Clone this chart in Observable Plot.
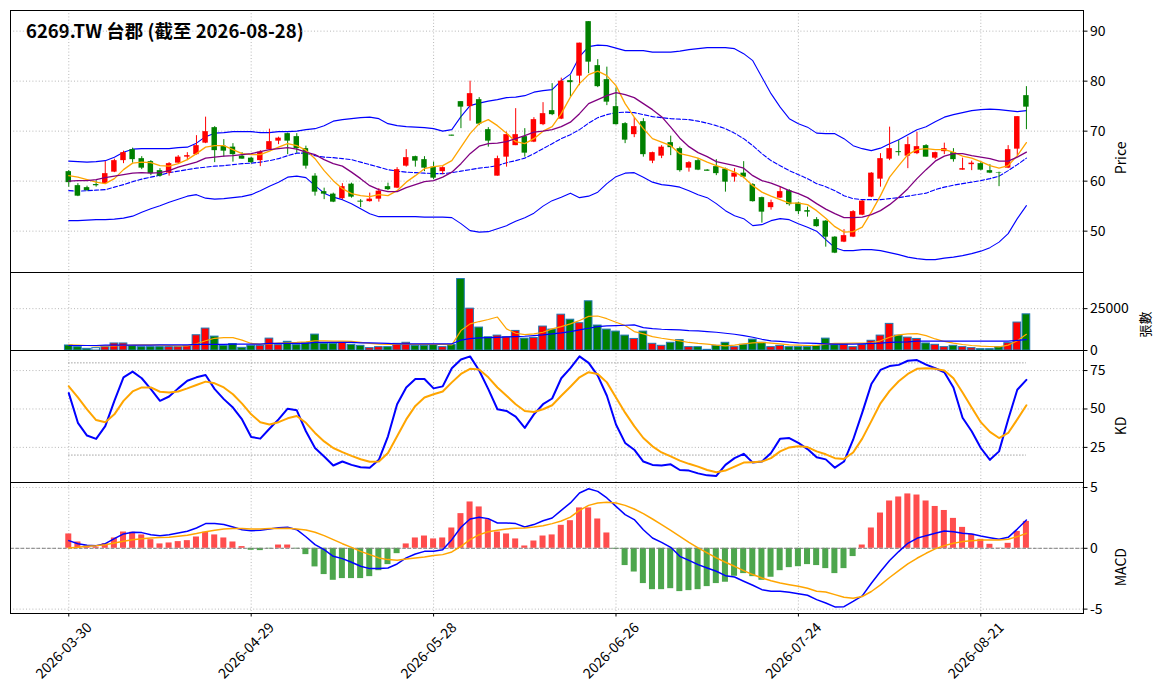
<!DOCTYPE html>
<html><head><meta charset="utf-8">
<script src="https://cdn.jsdelivr.net/npm/d3@7"></script>
<script src="https://cdn.jsdelivr.net/npm/@observablehq/plot@0.6"></script>
<style>
html,body{margin:0;padding:0;background:#fff;}
#chart{position:relative;width:1164px;height:698px;background:#fff;font-family:'Noto Sans CJK TC','Noto Sans',sans-serif;overflow:hidden;}
#chart svg{position:absolute;left:0;overflow:visible;}
#title{position:absolute;left:26px;top:18px;font-size:18.5px;font-weight:bold;line-height:24px;color:#000;white-space:nowrap;}
</style></head><body>
<div id="chart"><div id="title">6269.TW 台郡 (截至 2026-08-28)</div></div>
<script>
// ---- tick labels (trading-day index -> date) ----
const tickIdx = [0, 20, 40, 60, 80, 100];
const tickLabels = ["2026-03-30", "2026-04-29", "2026-05-28", "2026-06-26", "2026-07-24", "2026-08-21"];

// ---- OHLC ----
const open = [61.9,59.1,58.7,59.3,59.5,61.8,64.1,66.3,64.5,63.9,62.1,61.6,63.6,64.8,65.3,67.6,70.7,67.0,66.8,65.0,64.6,64.1,66.3,68.0,69.5,68.9,66.5,61.0,57.9,57.4,56.5,59.4,56.0,55.9,56.4,58.9,58.6,63.0,64.9,64.3,62.8,61.9,69.2,75.9,74.9,76.3,70.3,61.0,64.8,67.1,68.9,67.8,71.3,74.1,72.4,80.1,81.0,91.9,83.1,80.3,74.9,71.5,69.3,71.9,64.0,65.0,67.7,66.5,62.6,64.1,62.2,62.9,62.4,60.8,61.6,59.3,56.7,54.7,56.6,58.1,55.6,54.1,52.3,52.0,48.8,47.8,48.8,53.2,56.8,60.4,64.4,65.9,65.0,65.5,67.1,64.6,65.9,65.7,62.2,63.3,63.5,62.1,61.7,62.6,66.4,77.1];
const high = [62.1,59.5,59.0,60.1,63.9,64.4,66.0,66.6,64.9,64.1,62.5,63.7,65.1,65.7,69.1,72.8,70.9,68.3,67.5,65.7,64.8,66.1,70.4,68.8,69.6,69.5,67.0,61.5,58.6,57.6,59.5,59.6,56.3,57.6,58.5,59.6,62.7,66.3,65.0,64.9,63.8,62.9,69.2,75.9,80.0,76.7,70.7,65.0,69.8,74.5,70.5,72.7,75.7,79.5,80.6,81.1,87.6,91.9,84.3,82.8,78.6,71.7,72.7,72.5,65.8,67.1,69.0,66.8,63.9,64.5,62.3,64.3,62.6,62.5,63.9,59.5,56.8,56.2,58.8,58.3,55.8,54.8,52.7,52.1,48.9,50.3,54.1,56.1,61.7,65.5,70.8,68.1,68.8,69.8,67.3,65.8,67.6,66.5,64.6,64.0,63.8,63.3,61.8,67.1,72.9,78.9];
const low = [58.8,56.9,58.0,58.8,59.4,61.7,63.5,63.6,62.3,61.1,60.8,61.0,63.5,64.1,65.2,67.5,63.7,64.8,63.8,64.4,63.5,62.9,66.1,67.3,65.3,65.6,62.4,57.0,56.3,55.7,56.3,56.6,54.7,55.8,55.8,58.1,58.5,62.8,62.8,61.9,60.3,61.3,69.0,70.5,72.0,71.1,66.8,61.0,62.8,67.1,64.8,67.7,71.1,73.1,72.3,76.8,79.1,81.5,78.7,75.1,71.2,67.5,68.7,64.8,63.5,64.5,65.1,61.8,61.8,62.1,62.0,61.1,57.8,59.8,60.5,55.8,51.6,54.2,56.5,55.0,53.3,52.8,50.8,46.8,45.5,47.7,48.7,53.1,56.7,58.8,64.1,65.0,62.5,65.3,64.8,64.3,65.3,63.8,62.2,62.1,62.1,61.5,58.9,62.5,65.1,70.3];
const close = [59.7,57.0,58.1,59.3,61.5,64.1,65.7,64.3,62.6,61.5,61.0,63.5,64.8,65.1,67.1,69.9,66.1,66.0,65.3,64.4,63.7,65.8,67.9,68.6,68.0,66.5,63.0,57.8,57.4,55.8,58.9,56.8,55.8,56.4,58.0,58.3,62.3,64.7,64.0,62.6,60.6,62.7,69.0,74.8,77.5,71.4,68.0,64.5,69.3,69.3,65.6,72.3,73.5,73.3,80.0,79.7,87.6,83.8,78.9,75.8,71.3,68.2,70.9,65.3,65.7,66.8,66.7,62.1,63.7,62.2,62.2,61.5,59.8,61.6,60.8,55.9,53.8,55.7,57.9,55.3,53.9,53.8,50.9,48.8,45.6,49.1,53.9,56.0,61.6,64.5,66.5,65.7,67.3,66.9,64.8,65.7,66.5,64.3,62.5,63.6,62.2,61.6,61.6,66.3,72.9,74.8];

// ---- price overlays ----
const ma5 = [61.1,60.8,60.3,59.8,59.5,60.5,62.3,63.6,63.8,63.7,63.1,63.0,63.5,64.3,65.5,66.8,67.1,67.1,66.3,65.5,65.3,65.3,66.0,66.8,67.5,67.1,66.2,64.5,62.1,60.1,58.5,57.5,57.1,56.9,57.3,57.1,58.1,59.8,61.1,62.5,62.9,63.1,64.1,66.8,69.5,71.5,72.3,71.1,69.6,67.9,67.5,68.5,70.0,70.9,73.5,76.8,79.5,81.3,82.0,81.1,79.1,75.5,72.8,70.5,68.5,67.8,67.1,65.5,65.1,64.6,63.8,63.1,62.5,61.8,60.8,59.1,57.8,57.0,56.3,55.6,55.6,55.3,54.1,52.6,50.9,49.8,49.9,50.8,53.8,57.1,60.8,63.1,65.3,66.3,66.5,66.3,66.3,65.8,65.0,64.6,63.9,63.1,62.6,63.1,65.1,67.7];
const ma10 = [60.0,60.1,60.1,60.3,60.7,61.0,61.3,61.6,61.7,61.6,61.7,62.1,62.8,63.3,63.8,64.6,64.8,65.0,65.1,65.3,65.5,65.9,66.3,66.5,66.7,66.4,65.8,65.3,64.3,63.5,63.0,61.8,60.5,59.1,58.3,57.9,57.9,58.7,59.3,59.9,60.1,60.8,61.8,63.5,65.5,67.0,67.5,67.6,67.9,68.5,69.1,69.8,70.0,70.3,70.9,71.8,73.5,75.5,76.3,77.1,77.7,77.3,76.7,75.5,74.3,72.9,70.8,68.6,66.9,65.7,64.9,63.9,63.5,63.1,62.6,61.1,60.1,59.6,58.9,58.1,57.5,56.7,55.5,54.4,53.5,52.7,52.7,52.8,53.3,54.1,55.3,56.8,58.5,60.5,62.3,64.0,65.0,65.5,65.5,65.1,64.8,64.5,64.0,64.0,64.8,65.8];
const ma20 = [58.1,58.0,58.1,58.2,58.3,58.8,59.3,59.9,60.4,60.8,61.2,61.7,62.0,62.3,62.6,62.8,63.0,63.1,63.3,63.5,63.6,63.8,64.1,64.5,65.1,65.6,65.6,65.1,64.8,64.7,64.5,64.3,63.8,63.3,62.8,62.3,62.0,61.8,61.7,61.6,61.5,61.5,61.7,62.0,62.3,62.6,62.8,63.1,63.7,64.1,64.6,65.5,66.5,67.5,68.5,69.3,70.3,71.6,72.7,73.3,73.7,73.8,73.7,73.3,72.9,72.7,72.5,72.4,72.3,72.0,71.6,71.1,70.5,69.6,68.5,67.1,65.5,64.1,63.1,62.1,61.3,60.5,59.5,58.9,58.1,57.1,56.5,56.3,56.3,56.3,56.5,56.7,57.0,57.3,57.6,58.3,58.8,59.2,59.5,59.8,60.1,60.5,61.0,62.1,63.3,64.6];
const bbUpper = [64.0,63.9,63.8,63.9,64.1,64.8,65.8,66.4,66.5,66.5,66.5,66.5,66.7,66.8,67.6,68.9,69.6,69.7,69.9,69.9,69.9,69.7,69.7,69.9,69.9,70.0,70.3,70.5,71.1,72.0,72.3,72.5,72.7,72.8,72.5,71.5,71.1,70.9,70.8,70.7,70.5,70.0,70.3,72.9,75.1,75.6,76.0,76.3,76.7,76.8,77.1,77.8,78.1,78.3,80.1,81.4,84.9,86.9,87.2,87.1,86.6,86.1,86.1,86.1,85.8,85.8,85.8,86.0,86.3,86.5,86.7,86.7,86.7,86.5,85.5,84.1,80.8,77.5,74.8,72.5,71.5,70.8,69.6,69.5,69.5,68.5,67.1,66.5,66.1,66.6,67.5,68.3,69.3,70.3,70.9,71.9,72.8,73.3,73.7,74.1,74.3,74.4,74.3,74.1,73.9,74.1];
const bbLower = [52.1,52.1,52.2,52.3,52.3,52.4,52.6,53.0,53.8,54.5,55.1,55.8,56.4,57.0,57.3,56.6,56.4,56.5,56.7,56.9,57.3,58.1,59.0,59.8,60.8,61.0,60.7,59.1,57.6,56.8,56.3,55.5,54.5,53.5,52.9,52.9,52.9,52.9,52.9,52.8,52.8,52.8,52.7,51.5,50.1,49.8,49.9,50.5,51.1,52.0,52.7,53.6,55.0,56.1,56.8,57.6,56.7,57.0,57.8,59.5,60.9,61.6,61.7,60.8,59.8,59.3,59.1,58.8,58.1,57.3,56.7,55.5,54.1,53.1,52.5,51.1,51.3,52.1,52.5,52.3,51.5,50.8,50.0,48.3,46.7,46.1,46.1,46.3,46.3,46.1,45.7,45.3,44.8,44.5,44.3,44.3,44.6,44.8,45.1,45.5,46.0,46.7,47.8,49.5,52.5,55.1];

// ---- volume (張) ----
const volume = [3000,2000,1000,1400,2000,4200,4200,2600,2000,2000,2000,2000,2000,2600,9100,13100,8300,2800,3800,1600,2800,2800,7100,3200,5200,3200,4400,9500,4000,4000,4600,3400,2800,1400,2000,2000,4000,4600,2800,2800,3200,2000,3400,42700,25000,13700,7900,8900,7900,11700,7100,7500,14300,12500,21400,18400,16300,29400,14900,12500,11300,8900,6900,11300,4000,2800,4600,6200,2000,2000,400,2800,4600,2000,3400,6500,4600,2000,2800,2000,2000,2000,2800,7100,3200,3400,2000,3400,5800,8900,15900,8900,7700,6900,4200,3400,2000,2800,2000,1400,800,800,2000,4400,16700,21600];
const volMa5 = [3400,3200,3000,2800,2800,2800,3000,3200,3400,3400,3200,3000,2800,2800,4000,5800,7300,7700,7700,6200,4200,3800,4000,4400,4600,4800,5200,5800,5800,5600,5600,5400,4800,4200,3800,3600,3600,3600,3600,3600,3600,3600,3400,11900,15900,17300,18500,20000,12900,10300,9500,9900,10900,12900,14300,15900,17900,20400,20600,19000,16900,14900,11300,9900,8300,7300,6500,5800,4800,4200,3800,3200,2800,3200,4000,4600,4800,4400,4000,3400,3200,3000,3000,3800,4200,4200,4400,4400,4600,5800,7900,9300,9900,10100,8900,6900,5400,4400,3600,3000,2600,2400,2200,3200,5800,9700];
const volMa20 = [3000,3000,3000,3000,3200,3200,3200,3200,3200,3200,3400,3400,3400,3400,3600,3600,3600,3600,3800,3800,3800,3800,4200,4200,4200,4200,4200,4800,4800,4800,4800,4800,4600,4600,4400,4200,4000,4000,4000,4000,4000,4000,4000,6200,7100,7500,7700,7900,8100,8300,8500,8900,9300,9900,10500,11300,12300,13300,14300,14700,14900,15100,15300,13700,13100,12700,12500,12300,11900,11700,11300,10900,10300,9700,8900,7900,6700,5800,5400,5000,4600,4400,4200,4000,3800,3800,3800,4000,4200,4400,4800,5000,5200,5600,5600,5600,5600,5600,5600,5600,5600,5600,5600,5600,6000,6500];

// ---- KD ----
const kLine = [60.3,41.0,32.7,30.5,38.8,55.3,70.6,74.3,70.0,62.9,55.3,58.1,63.4,68.4,70.6,72.1,62.9,56.4,50.9,43.2,31.8,30.7,37.1,43.2,50.2,49.1,35.5,24.6,19.1,13.2,15.8,13.6,12.1,11.8,16.9,32.2,53.1,64.0,69.5,69.5,63.4,64.7,76.5,82.2,84.2,75.0,62.9,49.8,48.7,45.0,37.7,46.5,53.1,56.8,70.0,76.6,84.2,80.0,71.7,58.6,39.9,27.9,23.5,15.8,13.6,13.2,14.0,10.3,9.9,8.1,6.8,6.4,13.6,18.0,20.8,15.1,15.8,21.3,30.7,31.1,27.9,23.9,18.6,17.2,11.8,15.8,30.0,47.6,66.2,75.4,77.9,78.7,81.4,81.8,78.9,76.5,73.9,64.0,44.3,35.5,24.6,16.9,22.4,43.2,62.5,68.9];
const dLine = [64.7,57.5,49.8,42.8,41.4,46.5,55.3,61.4,64.0,64.0,61.2,60.7,61.4,63.4,65.6,67.8,66.7,64.0,59.6,53.5,46.5,41.4,39.9,41.4,43.9,45.4,41.0,34.4,28.9,24.6,21.9,19.5,17.3,15.6,15.8,21.3,32.2,43.2,52.0,57.5,59.6,61.4,67.3,72.8,76.1,75.7,70.6,64.0,58.6,53.1,48.7,48.0,49.8,52.4,58.6,64.5,70.6,73.9,72.8,67.3,57.5,47.6,38.8,31.1,25.7,21.7,19.1,16.4,14.3,12.5,10.3,8.8,9.9,12.5,15.1,15.4,15.8,18.0,22.4,25.0,25.7,25.2,22.4,20.5,18.0,17.5,21.7,30.7,42.1,53.7,61.8,68.0,72.8,76.1,76.5,76.1,75.0,70.0,60.7,50.9,41.4,35.1,31.1,34.4,43.2,52.4];
const kdBands = [80, 20];

// ---- MACD ----
const dif = [0.63,0.38,0.25,0.22,0.38,0.79,1.18,1.32,1.29,1.12,1.04,1.12,1.26,1.40,1.67,2.03,2.03,1.95,1.75,1.53,1.45,1.48,1.59,1.70,1.73,1.53,0.95,0.30,-0.11,-0.66,-0.85,-1.15,-1.48,-1.67,-1.67,-1.62,-1.29,-0.79,-0.47,-0.25,-0.25,-0.11,0.71,1.73,2.41,2.55,2.44,2.08,2.08,2.03,1.75,1.95,2.27,2.49,3.12,3.73,4.55,4.90,4.68,4.14,3.45,2.77,2.36,1.53,0.85,0.49,0.08,-0.66,-0.99,-1.34,-1.62,-1.89,-2.25,-2.36,-2.71,-3.04,-3.40,-3.53,-3.53,-3.62,-3.73,-3.86,-4.22,-4.50,-4.82,-4.80,-4.37,-3.91,-2.87,-1.91,-1.01,-0.27,0.41,0.82,1.04,1.23,1.42,1.37,1.23,1.17,1.01,0.87,0.74,0.90,1.58,2.32];
const dea = [0.03,0.08,0.16,0.22,0.30,0.44,0.58,0.71,0.79,0.85,0.88,0.90,0.99,1.07,1.21,1.37,1.48,1.59,1.62,1.62,1.59,1.59,1.62,1.62,1.64,1.59,1.50,1.32,1.04,0.71,0.38,0.08,-0.25,-0.52,-0.79,-0.93,-0.99,-0.88,-0.79,-0.71,-0.60,-0.52,-0.30,0.16,0.71,1.12,1.37,1.48,1.59,1.64,1.67,1.75,1.86,2.03,2.24,2.56,3.12,3.53,3.73,3.78,3.73,3.53,3.23,2.85,2.41,1.95,1.48,0.99,0.49,0.03,-0.38,-0.79,-1.15,-1.48,-1.84,-2.16,-2.44,-2.66,-2.85,-2.99,-3.12,-3.29,-3.53,-3.60,-3.81,-4.02,-4.10,-3.96,-3.55,-3.00,-2.40,-1.83,-1.28,-0.82,-0.41,-0.05,0.22,0.41,0.55,0.63,0.68,0.68,0.68,0.74,0.96,1.23];
const hist = [1.18,0.52,0.20,0.10,0.38,0.85,1.34,1.32,1.10,0.71,0.36,0.44,0.55,0.63,0.93,1.32,1.10,0.85,0.52,0.14,-0.16,-0.19,-0.05,0.27,0.27,-0.05,-0.52,-1.53,-2.16,-2.63,-2.49,-2.49,-2.49,-2.33,-1.84,-1.34,-0.44,0.36,0.85,1.01,0.77,0.85,1.67,2.85,3.81,3.40,2.36,1.34,1.18,0.77,0.19,0.60,1.01,1.10,1.89,2.27,3.32,3.32,2.41,1.26,-0.08,-1.42,-1.95,-2.90,-3.40,-3.40,-3.32,-3.56,-3.48,-3.40,-3.15,-2.90,-2.79,-2.30,-2.08,-2.33,-2.63,-2.38,-1.84,-1.59,-1.51,-1.34,-1.42,-1.67,-2.08,-1.67,-0.68,0.27,1.67,2.90,3.89,4.22,4.47,4.38,3.89,3.44,3.11,2.46,1.72,1.15,0.74,0.33,0.02,0.41,1.39,2.21];

// ---- build rows ----
const rows = open.map((o, i) => ({
  i, o, h: high[i], l: low[i], c: close[i], v: volume[i],
  ma5: ma5[i], ma10: ma10[i], ma20: ma20[i], up: bbUpper[i], lo: bbLower[i],
  vma5: volMa5[i], vma20: volMa20[i], k: kLine[i], d: dLine[i],
  dif: dif[i], dea: dea[i], hist: hist[i]
}));
const lastIdx = rows.length - 1;
const candleColor = d => d.c > d.o ? "#ff0000" : "#008000";
const volColor = d => d.c > d.o ? "#ff0000" : d.c < d.o ? "#008000" : "#ffffff";

const W = 1164, ML = 10, MR = 81;
const xDomain = [-6.39, 111.26];
const FONT = "'Noto Sans CJK TC','Noto Sans',sans-serif";
const gridStyle = {stroke: "#b0b0b0", strokeOpacity: 1, strokeDasharray: "1,2.2", strokeWidth: 0.9};

function panel({top, h, mb = 1, yDomain, yTicks, yFmt = d => String(d), marks, label, labelDx = 38, labelSize = 14}) {
  const svg = Plot.plot({
    width: W, height: h + 1 + mb,
    marginTop: 1, marginBottom: mb, marginLeft: ML, marginRight: MR,
    style: {fontFamily: FONT, fontSize: "14px", color: "#000", background: "transparent", overflow: "visible"},
    x: {domain: xDomain, axis: null},
    y: {domain: yDomain, axis: null},
    marks: [
      Plot.gridX({ticks: tickIdx, ...gridStyle}),
      Plot.gridY({ticks: yTicks, ...gridStyle}),
      ...marks,
      Plot.axisY({anchor: "right", ticks: yTicks, tickFormat: yFmt, tickSize: 3.5, tickPadding: 3, label: null, fontSize: 14, stroke: "#000"}),
      Plot.text([label], {frameAnchor: "right", dx: labelDx, rotate: -90, text: d => d, fontSize: labelSize, fill: "#000"}),
      Plot.frame({stroke: "#000", strokeWidth: 1})
    ]
  });
  svg.style.top = (top - 1) + "px";
  document.getElementById("chart").appendChild(svg);
}

// Price panel
const bodyW = 0.3;
panel({
  top: 10, h: 262, yDomain: [41.73, 94.13], yTicks: [50, 60, 70, 80, 90], label: "Price",
  marks: [
    Plot.line(rows, {x: "i", y: "up", stroke: "blue", strokeWidth: 1.1}),
    Plot.line(rows, {x: "i", y: "lo", stroke: "blue", strokeWidth: 1.1}),
    Plot.line(rows, {x: "i", y: "ma20", stroke: "blue", strokeWidth: 1.1, strokeDasharray: "4.4,2"}),
    Plot.ruleX(rows, {x: "i", y1: "l", y2: "h", stroke: candleColor, strokeWidth: 1}),
    Plot.rect(rows, {x1: d => d.i - bodyW, x2: d => d.i + bodyW, y1: d => Math.min(d.o, d.c), y2: d => Math.max(d.o, d.c), fill: candleColor}),
    Plot.ruleY(rows.filter(d => d.o === d.c), {y: "c", x1: d => d.i - bodyW, x2: d => d.i + bodyW, stroke: candleColor, strokeWidth: 1.2}),
    Plot.line(rows, {x: "i", y: "ma5", stroke: "orange", strokeWidth: 1.3}),
    Plot.line(rows, {x: "i", y: "ma10", stroke: "purple", strokeWidth: 1.3})
  ]
});

// Volume panel
panel({
  top: 272, h: 78, yDomain: [0, 46600], yTicks: [0, 25000], label: "張數", labelDx: 62, labelSize: 13,
  marks: [
    Plot.rect(rows, {x1: d => d.i - 0.42, x2: d => d.i + 0.42, y1: 0, y2: "v", fill: volColor, stroke: "#1f77b4", strokeWidth: 1}),
    Plot.line(rows, {x: "i", y: "vma5", stroke: "orange", strokeWidth: 1.2}),
    Plot.line(rows, {x: "i", y: "vma20", stroke: "blue", strokeWidth: 1.2})
  ]
});

// KD panel
panel({
  top: 350, h: 132, yDomain: [2.15, 88.05], yTicks: [25, 50, 75], label: "KD",
  marks: [
    Plot.ruleY(kdBands, {y: d => d, x1: 0, x2: lastIdx, stroke: "#888", strokeDasharray: "1.2,1.8", strokeWidth: 1}),
    Plot.line(rows, {x: "i", y: "k", stroke: "blue", strokeWidth: 2}),
    Plot.line(rows, {x: "i", y: "d", stroke: "orange", strokeWidth: 2})
  ]
});

// MACD panel (with date axis)
panel({
  top: 482, h: 131, mb: 85, yDomain: [-5.36, 5.41], yTicks: [-5, 0, 5], label: "MACD",
  marks: [
    Plot.rect(rows, {x1: d => d.i - 0.33, x2: d => d.i + 0.33, y1: 0, y2: "hist", fill: d => d.hist >= 0 ? "#ff4d4d" : "#4da64d"}),
    Plot.ruleY([0], {stroke: "gray", strokeDasharray: "3.7,1.6", strokeWidth: 1}),
    Plot.line(rows, {x: "i", y: "dif", stroke: "blue", strokeWidth: 1.5}),
    Plot.line(rows, {x: "i", y: "dea", stroke: "orange", strokeWidth: 1.5}),
    Plot.axisX({ticks: tickIdx, tickFormat: () => "", tickSize: 3.5, label: null, stroke: "#000"}),
    Plot.text(tickIdx, {x: d => d, text: (d, j) => tickLabels[j], frameAnchor: "bottom", dy: 40.5, dx: -1.5, rotate: -45, textAnchor: "middle", fontSize: 14, fill: "#000"})
  ]
});
</script>
</body></html>
